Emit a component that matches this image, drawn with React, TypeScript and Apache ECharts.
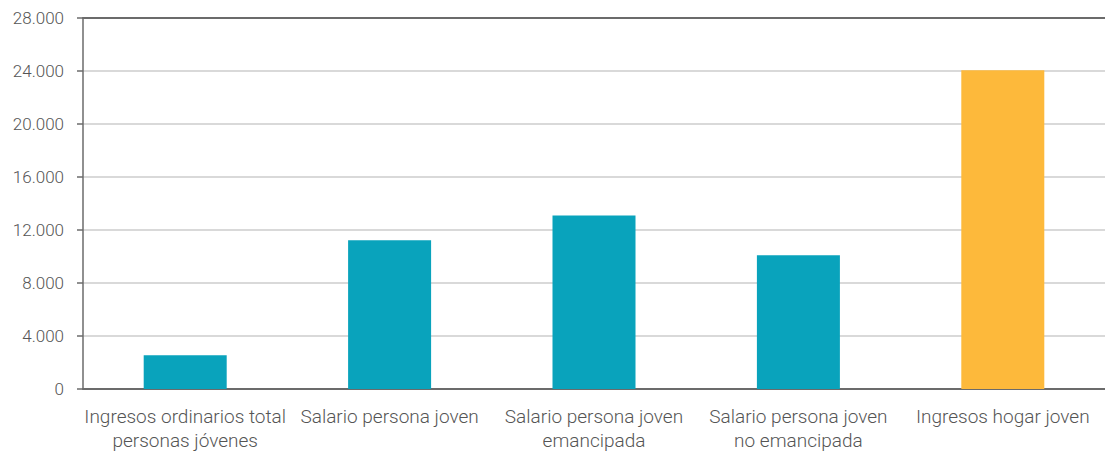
import React, { useEffect, useRef } from "react";
import * as echarts from "echarts";

const categories = [
  "Ingresos ordinarios total\npersonas jóvenes",
  "Salario persona joven",
  "Salario persona joven\nemancipada",
  "Salario persona joven\nno emancipada",
  "Ingresos hogar joven",
];
const values = [2550, 11230, 13100, 10100, 24050];
const barColors = ["#09A3BC", "#09A3BC", "#09A3BC", "#09A3BC", "#FDB93B"];
const yTicks = { min: 0, max: 28000, interval: 4000 };

function fmt(v: number): string {
  const s = String(Math.round(v));
  return s.replace(/\B(?=(\d{3})+(?!\d))/g, ".");
}

export default function App() {
  const ref = useRef<HTMLDivElement>(null);
  useEffect(() => {
    document.body.style.margin = "0";
    if (!ref.current) return;
    const chart = echarts.init(ref.current, undefined, { renderer: "svg" });
    const textStyle = { fontFamily: "Roboto", fontWeight: 300, fontSize: 18, color: "#555555" };
    chart.setOption({
      animation: false,
      textStyle,
      grid: { left: 83, width: 1029, top: 18, height: 374, containLabel: false },
      xAxis: [
        {
          type: "category",
          data: categories,
          axisLine: { show: true, lineStyle: { color: "#6b6b6b", width: 2 } },
          axisTick: { show: false },
          axisLabel: {
            ...textStyle,
            fontSize: 19,
            margin: 15,
            lineHeight: 24,
            interval: 0,
          },
        },
        {
          type: "category",
          position: "top",
          data: categories,
          axisLine: { show: true, lineStyle: { color: "#6b6b6b", width: 2 } },
          axisTick: { show: false },
          axisLabel: { show: false },
        },
      ],
      yAxis: {
        type: "value",
        min: yTicks.min,
        max: yTicks.max,
        interval: yTicks.interval,
        axisLine: { show: true, lineStyle: { color: "#6b6b6b", width: 1.5 } },
        axisTick: { show: true, length: 6, lineStyle: { color: "#6b6b6b", width: 1.5 } },
        splitLine: { show: true, lineStyle: { color: "#cccccc", width: 1.5 } },
        axisLabel: { ...textStyle, fontSize: 17, margin: 19, formatter: (v: number) => fmt(v) },
      },
      series: [
        {
          type: "bar",
          data: values.map((v, i) => ({ value: v, itemStyle: { color: barColors[i] } })),
          barWidth: 83,
        },
      ],
    });
    return () => chart.dispose();
  }, []);
  return <div ref={ref} style={{ width: 1105, height: 452 }} />;
}
